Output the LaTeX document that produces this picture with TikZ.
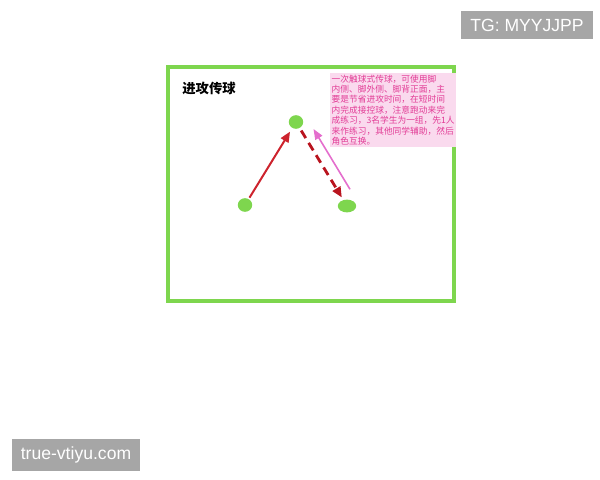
\documentclass[tikz,border=0pt]{standalone}
\usepackage{fontspec}
\setmainfont{Liberation Sans}
\newfontfamily\cjk{Noto Sans CJK SC}
\usetikzlibrary{arrows.meta,shapes.geometric}
\definecolor{fieldgreen}{RGB}{126,214,78}
\definecolor{passred}{RGB}{205,35,45}
\definecolor{runred}{RGB}{185,20,30}
\definecolor{backpink}{RGB}{228,110,205}
\definecolor{notepink}{RGB}{226,60,150}
\definecolor{notebg}{RGB}{250,218,238}
\definecolor{markgray}{RGB}{166,166,166}

\begin{document}
\begin{tikzpicture}[x=0.025cm, y=-0.025cm,
	player/.style={ellipse, fill=fieldgreen, inner sep=0pt, minimum width=0.36cm, minimum height=0.34cm},
	watermark/.style={fill=markgray, text=white, font=\fontsize{12.5}{14}\selectfont, inner xsep=6.5pt, inner ysep=5.5pt}]
	%%%%% START %%%%%
	
	\useasboundingbox (0, 0) rectangle (600, 480);
	
	\draw[line width=1.1mm, color=fieldgreen] (168, 67) rectangle (454, 301);
	
	\node[font=\cjk\bfseries\fontsize{9.5}{10}\selectfont] (title) at (209, 88) {进攻传球};
	
	\node[anchor=north west, fill=notebg, text=notepink, inner sep=1pt, align=left,
		font=\cjk\fontsize{6.2}{7.4}\selectfont] (note) at (330, 73)
		{一次触球式传球，可使用脚\\内侧、脚外侧、脚背正面，主\\要是节省进攻时间，在短时间\\内完成接控球，注意跑动来完\\成练习，3名学生为一组，先1人\\来作练习，其他同学辅助，然后\\角色互换。};
	
	\node[player] (left) at (245, 205) {};
	\node[player] (top) at (296, 122) {};
	\node[player, minimum width=0.46cm, minimum height=0.32cm] (right) at (347, 206) {};
	
	\draw[line width=0.5mm, color=passred, -{Triangle[length=2.6mm, width=2.2mm]}, shorten <=1pt, shorten >=3pt] (left) -- (top);
	\draw[line width=0.7mm, color=runred, dash pattern=on 2.2mm off 1.4mm, -{Triangle[length=2.6mm, width=2.2mm]}, shorten <=2pt, shorten >=2pt] (top) -- (right);
	\draw[line width=0.4mm, color=backpink, -{Triangle[length=2.6mm, width=2mm]}] ([shift={(3,-10)}]right.north) -- ([shift={(10,7)}]top.east);
	
	\node[watermark] (tg) at (527, 25) {TG: MYYJJPP};
	\node[watermark] (site) at (76, 455) {true-vtiyu.com};
	
	%%%%% END %%%%%
\end{tikzpicture}
\end{document}
